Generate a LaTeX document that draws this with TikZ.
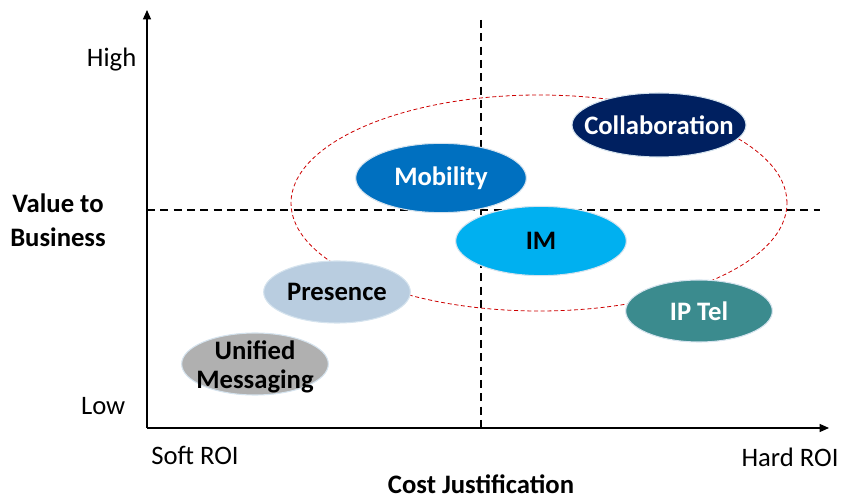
\documentclass[tikz,border=0pt]{standalone}
\usepackage{fontspec}
\setmainfont{Carlito}
\usepackage{tikz}
\usetikzlibrary{arrows.meta,shapes,positioning,calc}

\definecolor{navy}{HTML}{002060}
\definecolor{midblue}{HTML}{0070C0}
\definecolor{skyblue}{HTML}{00B0F0}
\definecolor{paleblue}{HTML}{B9CDE0}
\definecolor{midgray}{HTML}{B0B0B0}
\definecolor{teal}{HTML}{3B8B8E}
\definecolor{rim}{HTML}{D5E3EE}

\begin{document}
\begin{tikzpicture}[
    x=0.75pt, y=-0.75pt,
    bubble/.style={ellipse, fill=#1, draw=rim, line width=0.8pt, inner sep=0pt},
    big/.style={minimum width=128pt, minimum height=52pt},
    small/.style={minimum width=110pt, minimum height=46.5pt},
    darktext/.style={font=\fontsize{20}{23}\selectfont\bfseries, text=black, align=center},
    lighttext/.style={font=\fontsize{20}{23}\selectfont\bfseries, text=white, align=center},
    axislabel/.style={font=\fontsize{20}{24}\selectfont},
    title/.style={font=\fontsize{20}{25.5}\selectfont\bfseries, align=center},
    axis/.style={line width=0.9pt, -{Triangle[length=7pt,width=6pt]}},
    divider/.style={line width=1.2pt, dash pattern=on 6pt off 4pt}
]
\useasboundingbox (0,0) rectangle (849,498);

% --- AXES ---
\coordinate (origin) at (147,428);
\coordinate (ytop)   at (147,10);
\coordinate (xend)   at (829,428);
\draw [axis] (origin) -- (ytop);
\draw [axis] (origin) -- (xend);

% quadrant dividers
\coordinate (vtop) at (481,20);
\coordinate (vbot) at (481,428);
\coordinate (hleft)  at (147,210);
\coordinate (hright) at (820,210);
\draw [divider] (vtop) -- (vbot);
\draw [divider] (hleft) -- (hright);

% --- AXIS TEXT ---
\node (high) [axislabel, anchor=east] at (141,60) {High};
\node (low)  [axislabel, anchor=east] at (130,406) {Low};
\node (value) [title] at (58,220) {Value to\\Business};
\node (soft) [axislabel] at (195,455) {Soft ROI};
\node (hard) [axislabel] at (790,457) {Hard ROI};
\node (cost) [title, inner sep=0pt] at (481,484) {Cost Justification};

% --- HIGHLIGHTED REGION ---
\node (focus) [ellipse, draw=red!80!black, densely dashed, line width=0.6pt,
    minimum width=372pt, minimum height=162pt] at (539,203) {};

% --- TECHNOLOGIES ---
\node (collab)   [bubble=navy, minimum width=130.5pt, minimum height=48pt] at (659,125) {};
\node (mobility) [bubble=midblue, big] at (441,178) {};
\node (im)       [bubble=skyblue, big] at (541,241) {};
\node (presence) [bubble=paleblue, small] at (337,292) {};
\node (unified)  [bubble=midgray, small] at (255,364) {};
\node (iptel)    [bubble=teal, small] at (699,311) {};

\node [lighttext] at (collab)   {Collaboration};
\node [lighttext] at (mobility) {Mobility};
\node [darktext]  at (im)       {IM};
\node [darktext]  at (presence) {Presence};
\node [darktext, font=\fontsize{20}{22}\selectfont\bfseries] at ([yshift=-2pt]unified) {Unified\\Messaging};
\node [lighttext] at (iptel)    {IP Tel};

\end{tikzpicture}
\end{document}
